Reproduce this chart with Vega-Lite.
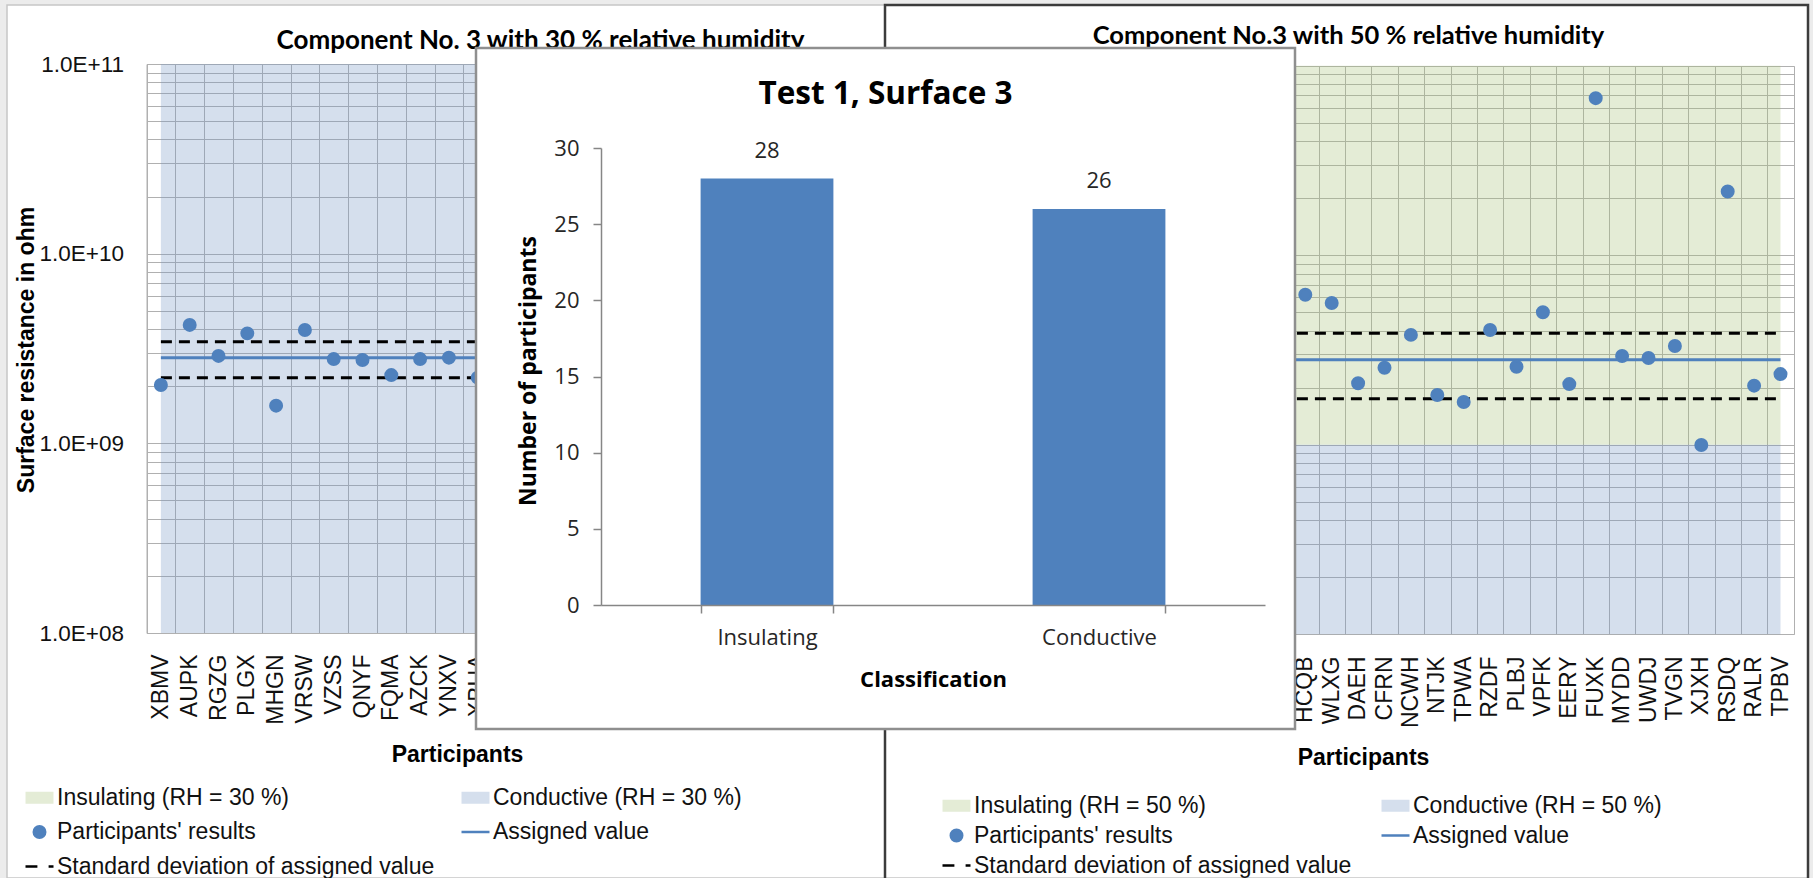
{
  "$schema": "https://vega.github.io/schema/vega-lite/v6.json",
  "width": 1801,
  "height": 873,
  "autosize": {"type": "none"},
  "padding": {"left": 7, "top": 5, "right": 5, "bottom": 0},
  "background": "#ececec",
  "config": {"view": {"fill": "white", "stroke": "#c6c6c6", "strokeWidth": 1.5}},
  "datasets": {
    "left": [
      {"p": "XBMV", "v": 2.03e9, "k": "Participants' results"},
      {"p": "AUPK", "v": 4.21e9, "k": "Participants' results"},
      {"p": "RGZG", "v": 2.89e9, "k": "Participants' results"},
      {"p": "PLGX", "v": 3.80e9, "k": "Participants' results"},
      {"p": "MHGN", "v": 1.58e9, "k": "Participants' results"},
      {"p": "VRSW", "v": 3.96e9, "k": "Participants' results"},
      {"p": "VZSS", "v": 2.78e9, "k": "Participants' results"},
      {"p": "QNYF", "v": 2.75e9, "k": "Participants' results"},
      {"p": "FQMA", "v": 2.29e9, "k": "Participants' results"},
      {"p": "AZCK", "v": 2.78e9, "k": "Participants' results"},
      {"p": "YNXV", "v": 2.83e9, "k": "Participants' results"},
      {"p": "XBUA", "v": 2.22e9, "k": "Participants' results"}
    ],
    "right": [
      {"p": "KSLW", "k": "Participants' results"},
      {"p": "HCQB", "v": 6.19e9, "k": "Participants' results"},
      {"p": "WLXG", "v": 5.60e9, "k": "Participants' results"},
      {"p": "DAEH", "v": 2.11e9, "k": "Participants' results"},
      {"p": "CFRN", "v": 2.55e9, "k": "Participants' results"},
      {"p": "NCWH", "v": 3.80e9, "k": "Participants' results"},
      {"p": "NTJK", "v": 1.83e9, "k": "Participants' results"},
      {"p": "TPWA", "v": 1.68e9, "k": "Participants' results"},
      {"p": "RZDF", "v": 4.03e9, "k": "Participants' results"},
      {"p": "PLBJ", "v": 2.58e9, "k": "Participants' results"},
      {"p": "VPFK", "v": 5.00e9, "k": "Participants' results"},
      {"p": "EERY", "v": 2.09e9, "k": "Participants' results"},
      {"p": "FUXK", "v": 6.74e10, "k": "Participants' results"},
      {"p": "MYDD", "v": 2.94e9, "k": "Participants' results"},
      {"p": "UWDJ", "v": 2.87e9, "k": "Participants' results"},
      {"p": "TVGN", "v": 3.32e9, "k": "Participants' results"},
      {"p": "XJXH", "v": 9.97e8, "k": "Participants' results"},
      {"p": "RSDQ", "v": 2.17e10, "k": "Participants' results"},
      {"p": "RALR", "v": 2.05e9, "k": "Participants' results"},
      {"p": "TPBV", "v": 2.36e9, "k": "Participants' results"}
    ],
    "classes": [
      {"c": "Insulating", "n": 28},
      {"c": "Conductive", "n": 26}
    ]
  },
  "resolve": {"scale": {"x": "independent", "y": "independent", "fill": "independent", "stroke": "independent", "shape": "independent"}},
  "layer": [
    {
      "data": {"name": "left"},
      "layer": [
        {
          "mark": {"type": "area", "color": "#7394C3", "opacity": 0.3},
          "encoding": {
            "x": {"field": "p", "type": "nominal",
              "scale": {"type": "band", "domain": ["XBMV","AUPK","RGZG","PLGX","MHGN","VRSW","VZSS","QNYF","FQMA","AZCK","YNXV","XBUA"], "range": [139.5, 485.1], "paddingInner": 0, "paddingOuter": 0},
              "axis": {"orient": "top", "grid": true, "gridColor": "#b0b0b0", "gridWidth": 1, "tickBand": "extent", "labels": false, "ticks": false, "domain": false,
                "title": "Component No. 3 with 30 %  relative humidity", "titleFont": "Lato", "titleFontSize": 26, "titleFontWeight": "bold", "titleColor": "#000000", "titleX": 533, "titleY": 35, "titleBaseline": "middle", "titleAlign": "center", "titleAngle": 0}},
            "y": {"datum": 1e11, "type": "quantitative", "scale": {"type": "log", "domain": [1e8, 1e11], "range": [628, 59], "nice": false},
              "axis": {"orient": "left", "offset": -139.5, "values": [1e8,2e8,3e8,4e8,5e8,6e8,7e8,8e8,9e8,1e9,2e9,3e9,4e9,5e9,6e9,7e9,8e9,9e9,1e10,2e10,3e10,4e10,5e10,6e10,7e10,8e10,9e10,1e11], "tickCount": 100,
                "grid": true, "gridColor": "#b0b0b0", "gridWidth": 1, "ticks": false, "domain": true, "domainColor": "#b0b0b0",
                "labelExpr": "abs(log(datum.value)/LN10 - round(log(datum.value)/LN10)) < 0.01 ? '1.0E+' + (round(log(datum.value)/LN10) < 10 ? '0' : '') + round(log(datum.value)/LN10) : ''",
                "labelFont": "Liberation Sans", "labelFontSize": 22.5, "labelColor": "#111111", "labelPadding": 23, "labelOverlap": false,
                "title": "Surface resistance in ohm", "titleFont": "Liberation Sans", "titleFontSize": 23, "titleFontWeight": "bold", "titleColor": "#000000", "titleX": -120.5, "titleY": 344.5, "titleAngle": 270, "titleBaseline": "middle", "titleAlign": "center"}},
            "y2": {"datum": 1e8},
            "order": {"value": null}
          }
        },
        {
          "mark": {"type": "line", "color": "#4F81BD", "strokeWidth": 3},
          "encoding": {
            "x": {"field": "p", "type": "nominal", "axis": null},
            "y": {"datum": 2.83e9, "type": "quantitative"},
            "order": {"value": null}
          }
        },
        {
          "mark": {"type": "line", "color": "#000000", "strokeWidth": 3, "strokeDash": [11, 7]},
          "encoding": {
            "x": {"field": "p", "type": "nominal", "axis": null},
            "y": {"datum": 3.43e9, "type": "quantitative"},
            "order": {"value": null}
          }
        },
        {
          "mark": {"type": "line", "color": "#000000", "strokeWidth": 3, "strokeDash": [11, 7]},
          "encoding": {
            "x": {"field": "p", "type": "nominal", "axis": null},
            "y": {"datum": 2.22e9, "type": "quantitative"},
            "order": {"value": null}
          }
        },
        {
          "transform": [{"filter": "isValid(datum.v)"}],
          "mark": {"type": "point", "filled": true, "size": 784, "strokeWidth": 2.5, "opacity": 1},
          "encoding": {
            "x": {"field": "p", "type": "nominal",
              "axis": {"orient": "bottom", "offset": -245, "labelAngle": 270, "labelFont": "Liberation Sans", "labelFontSize": 23, "labelColor": "#111111", "labelPadding": 21, "ticks": false, "domain": true, "domainColor": "#b0b0b0", "grid": false, "labelOverlap": false,
                "title": "Participants", "titleFont": "Liberation Sans", "titleFontSize": 23, "titleFontWeight": "bold", "titleColor": "#000000", "titleX": 450, "titleY": 121, "titleBaseline": "middle", "titleAlign": "center", "titleAngle": 0}},
            "y": {"field": "v", "type": "quantitative"},
            "fill": {"field": "k", "type": "nominal",
              "scale": {"domain": ["Insulating (RH = 30 %)", "Conductive (RH = 30 %)", "Participants' results", "Assigned value", "Standard deviation of assigned value"], "range": ["#E4ECD6", "#D5DFED", "#4F81BD", "#4F81BD", "#000000"]},
              "legend": {"orient": "none", "legendX": 17, "legendY": 777, "direction": "horizontal", "title": null, "columns": 2, "columnPadding": 21, "rowPadding": 6.5, "labelFont": "Liberation Sans", "labelFontSize": 23, "labelColor": "#111111", "labelLimit": 600, "labelOffset": 2, "symbolSize": 784, "symbolStrokeWidth": 2.5, "symbolFillColor": "#4F81BD", "symbolStrokeColor": "#4F81BD", "padding": 0}},
            "stroke": {"field": "k", "type": "nominal",
              "scale": {"domain": ["Insulating (RH = 30 %)", "Conductive (RH = 30 %)", "Participants' results", "Assigned value", "Standard deviation of assigned value"], "range": ["#E4ECD6", "#D5DFED", "#4F81BD", "#4F81BD", "#000000"]},
              "legend": {"orient": "none", "legendX": 17, "legendY": 777, "direction": "horizontal", "title": null, "columns": 2, "columnPadding": 21, "rowPadding": 6.5, "labelFont": "Liberation Sans", "labelFontSize": 23, "labelColor": "#111111", "labelLimit": 600, "labelOffset": 2, "symbolSize": 784, "symbolStrokeWidth": 2.5, "symbolFillColor": "#4F81BD", "symbolStrokeColor": "#4F81BD", "padding": 0}},
            "shape": {"field": "k", "type": "nominal",
              "scale": {"domain": ["Insulating (RH = 30 %)", "Conductive (RH = 30 %)", "Participants' results", "Assigned value", "Standard deviation of assigned value"], "range": ["M-0.91,-0.34H0.91V0.34H-0.91Z", "M-0.91,-0.34H0.91V0.34H-0.91Z", "M-0.41,0A0.41,0.41,0,1,1,0.41,0A0.41,0.41,0,1,1,-0.41,0Z", "M-1,0H1", "M-1,0H-0.15M0.65,0H1"]},
              "legend": {"orient": "none", "legendX": 17, "legendY": 777, "direction": "horizontal", "title": null, "columns": 2, "columnPadding": 21, "rowPadding": 6.5, "labelFont": "Liberation Sans", "labelFontSize": 23, "labelColor": "#111111", "labelLimit": 600, "labelOffset": 2, "symbolSize": 784, "symbolStrokeWidth": 2.5, "symbolFillColor": "#4F81BD", "symbolStrokeColor": "#4F81BD", "padding": 0}}
          }
        }
      ]
    },
    {
      "data": {"name": "right"},
      "layer": [
        {
          "mark": {"type": "area", "color": "#A5C076", "opacity": 0.3},
          "encoding": {
            "x": {"field": "p", "type": "nominal",
              "scale": {"type": "band", "domain": ["KSLW","HCQB","WLXG","DAEH","CFRN","NCWH","NTJK","TPWA","RZDF","PLBJ","VPFK","EERY","FUXK","MYDD","UWDJ","TVGN","XJXH","RSDQ","RALR","TPBV"], "range": [1258.7, 1786.7], "paddingInner": 0, "paddingOuter": 0},
              "axis": {"orient": "top", "grid": true, "gridColor": "#b0b0b0", "gridWidth": 1, "tickBand": "extent", "labels": false, "ticks": false, "domain": false,
                "title": "Component No.3 with 50 % relative humidity", "titleFont": "Lato", "titleFontSize": 25.5, "titleFontWeight": "bold", "titleColor": "#000000", "titleX": 1341, "titleY": 30, "titleBaseline": "middle", "titleAlign": "center", "titleAngle": 0}},
            "y": {"datum": 1e11, "type": "quantitative", "scale": {"type": "log", "domain": [1e8, 1e11], "range": [629.3, 60.7], "nice": false},
              "axis": {"orient": "left", "offset": -1258.7, "values": [1e8,2e8,3e8,4e8,5e8,6e8,7e8,8e8,9e8,1e9,2e9,3e9,4e9,5e9,6e9,7e9,8e9,9e9,1e10,2e10,3e10,4e10,5e10,6e10,7e10,8e10,9e10,1e11], "tickCount": 100,
                "grid": true, "gridColor": "#b0b0b0", "gridWidth": 1, "ticks": false, "domain": false, "labels": false, "title": null}},
            "y2": {"datum": 1e9},
            "order": {"value": null}
          }
        },
        {
          "mark": {"type": "area", "color": "#7394C3", "opacity": 0.3},
          "encoding": {
            "x": {"field": "p", "type": "nominal", "axis": null},
            "y": {"datum": 1e9, "type": "quantitative"},
            "y2": {"datum": 1e8},
            "order": {"value": null}
          }
        },
        {
          "mark": {"type": "line", "color": "#4F81BD", "strokeWidth": 3},
          "encoding": {
            "x": {"field": "p", "type": "nominal", "axis": null},
            "y": {"datum": 2.81e9, "type": "quantitative"},
            "order": {"value": null}
          }
        },
        {
          "mark": {"type": "line", "color": "#000000", "strokeWidth": 3, "strokeDash": [11, 7]},
          "encoding": {
            "x": {"field": "p", "type": "nominal", "axis": null},
            "y": {"datum": 3.88e9, "type": "quantitative"},
            "order": {"value": null}
          }
        },
        {
          "mark": {"type": "line", "color": "#000000", "strokeWidth": 3, "strokeDash": [11, 7]},
          "encoding": {
            "x": {"field": "p", "type": "nominal", "axis": null},
            "y": {"datum": 1.75e9, "type": "quantitative"},
            "order": {"value": null}
          }
        },
        {
          "transform": [{"filter": "isValid(datum.v)"}],
          "mark": {"type": "point", "filled": true, "size": 784, "strokeWidth": 2.5, "opacity": 1},
          "encoding": {
            "x": {"field": "p", "type": "nominal",
              "axis": {"orient": "bottom", "offset": -244, "labelAngle": 270, "labelFont": "Liberation Sans", "labelFontSize": 23, "labelColor": "#111111", "labelPadding": 22, "ticks": false, "domain": true, "domainColor": "#b0b0b0", "grid": false, "labelOverlap": false,
                "title": "Participants", "titleFont": "Liberation Sans", "titleFontSize": 23, "titleFontWeight": "bold", "titleColor": "#000000", "titleX": 1356, "titleY": 123, "titleBaseline": "middle", "titleAlign": "center", "titleAngle": 0}},
            "y": {"field": "v", "type": "quantitative"},
            "fill": {"field": "k", "type": "nominal",
              "scale": {"domain": ["Insulating (RH = 50 %)", "Conductive (RH = 50 %)", "Participants' results", "Assigned value", "Standard deviation of assigned value"], "range": ["#E4ECD6", "#D5DFED", "#4F81BD", "#4F81BD", "#000000"]},
              "legend": {"orient": "none", "legendX": 934, "legendY": 785, "direction": "horizontal", "title": null, "columns": 2, "columnPadding": 24, "rowPadding": 2, "labelFont": "Liberation Sans", "labelFontSize": 23, "labelColor": "#111111", "labelLimit": 600, "labelOffset": 2, "symbolSize": 784, "symbolStrokeWidth": 2.5, "symbolFillColor": "#4F81BD", "symbolStrokeColor": "#4F81BD", "padding": 0}},
            "stroke": {"field": "k", "type": "nominal",
              "scale": {"domain": ["Insulating (RH = 50 %)", "Conductive (RH = 50 %)", "Participants' results", "Assigned value", "Standard deviation of assigned value"], "range": ["#E4ECD6", "#D5DFED", "#4F81BD", "#4F81BD", "#000000"]},
              "legend": {"orient": "none", "legendX": 934, "legendY": 785, "direction": "horizontal", "title": null, "columns": 2, "columnPadding": 24, "rowPadding": 2, "labelFont": "Liberation Sans", "labelFontSize": 23, "labelColor": "#111111", "labelLimit": 600, "labelOffset": 2, "symbolSize": 784, "symbolStrokeWidth": 2.5, "symbolFillColor": "#4F81BD", "symbolStrokeColor": "#4F81BD", "padding": 0}},
            "shape": {"field": "k", "type": "nominal",
              "scale": {"domain": ["Insulating (RH = 50 %)", "Conductive (RH = 50 %)", "Participants' results", "Assigned value", "Standard deviation of assigned value"], "range": ["M-0.91,-0.34H0.91V0.34H-0.91Z", "M-0.91,-0.34H0.91V0.34H-0.91Z", "M-0.41,0A0.41,0.41,0,1,1,0.41,0A0.41,0.41,0,1,1,-0.41,0Z", "M-1,0H1", "M-1,0H-0.15M0.65,0H1"]},
              "legend": {"orient": "none", "legendX": 934, "legendY": 785, "direction": "horizontal", "title": null, "columns": 2, "columnPadding": 24, "rowPadding": 2, "labelFont": "Liberation Sans", "labelFontSize": 23, "labelColor": "#111111", "labelLimit": 600, "labelOffset": 2, "symbolSize": 784, "symbolStrokeWidth": 2.5, "symbolFillColor": "#4F81BD", "symbolStrokeColor": "#4F81BD", "padding": 0}}
          }
        }
      ]
    },
    {
      "data": {"values": [{"box": "right panel"}]},
      "mark": {"type": "rect", "fill": "#ffffff", "fillOpacity": 0, "stroke": "#3c3c3c", "strokeWidth": 2.5},
      "encoding": {
        "x": {"datum": 0, "type": "quantitative", "scale": {"domain": [0, 1], "range": [878, 1801], "nice": false}, "axis": null},
        "x2": {"datum": 1},
        "y": {"datum": 0, "type": "quantitative", "scale": {"domain": [0, 1], "range": [875, 0], "nice": false}, "axis": null},
        "y2": {"datum": 1}
      }
    },
    {
      "data": {"values": [{"box": "inset"}]},
      "mark": {"type": "rect", "fill": "#ffffff", "stroke": "#8f8f8f", "strokeWidth": 2.5},
      "encoding": {
        "x": {"datum": 0, "type": "quantitative", "scale": {"domain": [0, 1], "range": [469, 1288], "nice": false},
          "axis": {"orient": "top", "labels": false, "ticks": false, "domain": false, "grid": false, "title": "Test 1, Surface 3", "titleFont": "Open Sans", "titleFontSize": 31.5, "titleFontWeight": "bold", "titleColor": "#000000", "titleX": 878, "titleY": 89, "titleBaseline": "middle", "titleAlign": "center", "titleAngle": 0, "zindex": 1}},
        "x2": {"datum": 1},
        "y": {"datum": 0, "type": "quantitative", "scale": {"domain": [0, 1], "range": [724, 43], "nice": false}, "axis": null},
        "y2": {"datum": 1}
      }
    },
    {
      "data": {"name": "classes"},
      "encoding": {
        "x": {"field": "c", "type": "nominal",
          "scale": {"type": "band", "domain": ["Insulating", "Conductive"], "range": [594, 1258], "paddingInner": 0.6, "paddingOuter": 0.3},
          "axis": {"orient": "bottom", "offset": -273, "tickBand": "extent", "ticks": true, "tickSize": 8, "tickColor": "#868686", "tickWidth": 1.5, "domain": true, "domainColor": "#868686", "domainWidth": 1.5, "grid": false, "labelAngle": 0, "labelFont": "Open Sans", "labelFontSize": 22, "labelColor": "#262626", "labelPadding": 14,
            "title": "Classification", "titleFont": "Open Sans", "titleFontSize": 22, "titleFontWeight": "bold", "titleColor": "#000000", "titleX": 926, "titleY": 74, "titleBaseline": "middle", "titleAlign": "center", "titleAngle": 0, "zindex": 1}},
        "y": {"field": "n", "type": "quantitative",
          "scale": {"domain": [0, 30], "range": [600, 143], "nice": false},
          "axis": {"orient": "left", "offset": -594, "values": [0, 5, 10, 15, 20, 25, 30], "ticks": true, "tickSize": 8, "tickColor": "#868686", "tickWidth": 1.5, "domain": true, "domainColor": "#868686", "domainWidth": 1.5, "grid": false, "labelFont": "Open Sans", "labelFontSize": 22, "labelColor": "#262626", "labelPadding": 14,
            "title": "Number of participants", "titleFont": "Open Sans", "titleFontSize": 23, "titleFontWeight": "bold", "titleColor": "#000000", "titleX": -73, "titleY": 365.5, "titleAngle": 270, "titleBaseline": "middle", "titleAlign": "center", "zindex": 1}}
      },
      "layer": [
        {"mark": {"type": "bar", "color": "#4F81BD"}},
        {"mark": {"type": "text", "dy": -27.5, "font": "Open Sans", "fontSize": 22, "color": "#262626"},
         "encoding": {"text": {"field": "n", "type": "quantitative"}}}
      ]
    }
  ]
}
